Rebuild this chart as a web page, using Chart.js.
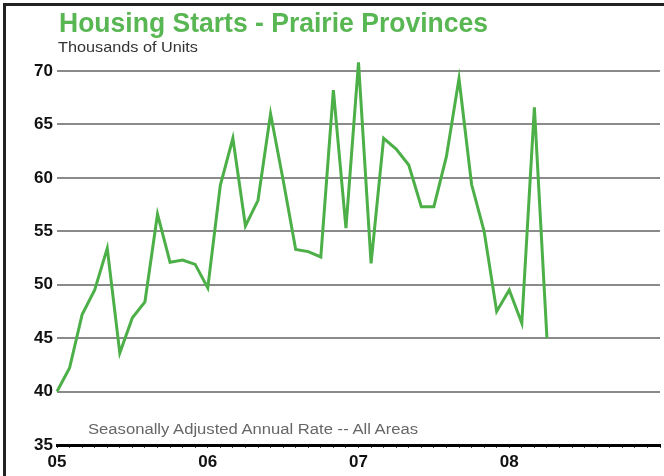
<!DOCTYPE html>
<html>
<head>
<meta charset="utf-8">
<script src="https://cdn.jsdelivr.net/npm/chart.js@4.4.1/dist/chart.umd.min.js"></script>
<style>
  html, body { margin: 0; padding: 0; background: #fff; }
  #wrap { position: relative; width: 664px; height: 476px; overflow: hidden; background: #fff; }
  #frame { position: absolute; left: 3px; top: 3px; width: 700px; height: 500px;
           border-left: 3px solid #222; border-top: 3px solid #222; box-sizing: border-box; pointer-events: none; }
  canvas { position: absolute; left: 0; top: 0; }
  .txt { position: absolute; white-space: nowrap; font-family: "Liberation Sans", Arial, sans-serif; line-height: 1; }
  #title { left: 59px; top: 9px; font-size: 28px; font-weight: bold; color: #58b653; transform-origin: 0 0; }
  #subtitle { left: 58px; top: 39px; font-size: 15px; color: #333; transform-origin: 0 0; }
  #note { left: 88px; top: 422px; font-size: 14px; color: #666; transform-origin: 0 0; }
</style>
</head>
<body>
<div id="wrap">
  <canvas id="c" width="664" height="476"></canvas>
  <div id="title" class="txt">Housing Starts - Prairie Provinces</div>
  <div id="subtitle" class="txt">Thousands of Units</div>
  <div id="note" class="txt">Seasonally Adjusted Annual Rate -- All Areas</div>
  <div id="frame"></div>
</div>
<script>
// ---- data ----
const months = [
  '2005-01','2005-02','2005-03','2005-04','2005-05','2005-06','2005-07','2005-08','2005-09','2005-10','2005-11','2005-12',
  '2006-01','2006-02','2006-03','2006-04','2006-05','2006-06','2006-07','2006-08','2006-09','2006-10','2006-11','2006-12',
  '2007-01','2007-02','2007-03','2007-04','2007-05','2007-06','2007-07','2007-08','2007-09','2007-10','2007-11','2007-12',
  '2008-01','2008-02','2008-03','2008-04'
];
const starts = [
  40.0, 42.2, 47.2, 49.5, 53.4, 43.6, 46.9, 48.4, 56.6, 52.1, 52.3, 51.9,
  49.7, 59.3, 63.7, 55.5, 57.9, 66.0, 59.8, 53.3, 53.1, 52.6, 68.2, 55.3,
  70.8, 52.0, 63.7, 62.7, 61.2, 57.3, 57.3, 62.0, 69.3, 59.4, 55.0, 47.5,
  49.5, 46.4, 66.6, 45.0
];
const yearLabels = ['05', '06', '07', '08'];
const yTicks = [35, 40, 45, 50, 55, 60, 65, 70];

// fit text widths
function fitWidth(id, w) {
  const el = document.getElementById(id);
  const cur = el.getBoundingClientRect().width;
  el.style.transform = 'scaleX(' + (w / cur) + ')';
}
fitWidth('title', 429);
fitWidth('subtitle', 140);
fitWidth('note', 330);

const points = starts.map((v, i) => ({ x: i, y: v }));

new Chart(document.getElementById('c'), {
  type: 'line',
  data: {
    datasets: [{
      label: 'Housing Starts',
      data: points,
      borderColor: '#4caf47',
      borderWidth: 3,
      pointRadius: 0,
      tension: 0,
      clip: false,
      borderJoinStyle: 'miter'
    }]
  },
  options: {
    responsive: false,
    animation: false,
    events: [],
    layout: { padding: { left: 0, right: 4, top: 71, bottom: 0 } },
    plugins: { legend: { display: false }, tooltip: { enabled: false } },
    scales: {
      x: {
        type: 'linear',
        min: 0,
        max: 48,
        afterFit: (s) => { s.height = 31; },
        afterBuildTicks: (s) => {
          const t = [];
          for (let i = 0; i <= 48; i++) t.push({ value: i });
          s.ticks = t;
        },
        ticks: {
          autoSkip: false,
          maxRotation: 0,
          padding: 4,
          color: '#111',
          font: { family: 'Liberation Sans, Arial, sans-serif', size: 17, weight: 'bold' },
          callback: (v) => (v % 12 === 0 && yearLabels[v / 12] !== undefined) ? yearLabels[v / 12] : ''
        },
        grid: { drawOnChartArea: false, drawTicks: true, tickLength: 3, color: '#444', lineWidth: 1 },
        border: { display: true, color: '#000', width: 3 }
      },
      y: {
        min: 35,
        max: 70,
        afterFit: (s) => { s.width = 57; },
        afterBuildTicks: (s) => { s.ticks = yTicks.map(v => ({ value: v })); },
        ticks: {
          padding: 4,
          color: '#111',
          font: { family: 'Liberation Sans, Arial, sans-serif', size: 17, weight: 'bold' }
        },
        grid: { drawTicks: false, color: '#8a8a8a', lineWidth: 2 },
        border: { display: false }
      }
    }
  }
});
</script>
</body>
</html>
